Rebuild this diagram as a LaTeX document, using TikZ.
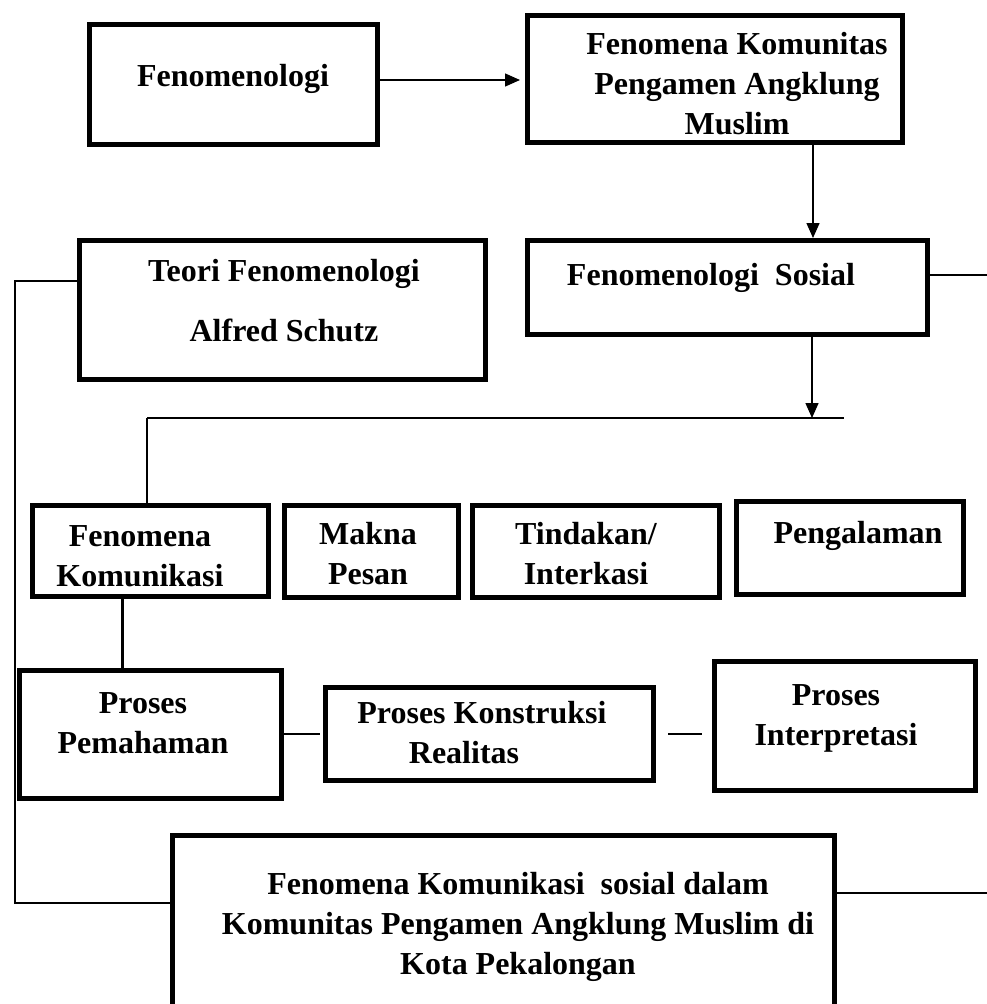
\documentclass[tikz,border=0pt]{standalone}
\usepackage{fontspec}
\setmainfont{Liberation Serif}
\usetikzlibrary{arrows.meta}

\tikzset{
  kotak/.style={draw, rectangle, line width=5pt, inner sep=0pt},
  teks/.style={font=\fontsize{32}{40}\selectfont\bfseries, align=center, inner sep=0pt},
  garis/.style={line width=1.4pt},
  panah/.style={line width=1.4pt, -{Triangle[length=15pt,width=13pt]}},
}

\begin{document}
\begin{tikzpicture}[x=1pt,y=-1pt]
  \useasboundingbox (0,0) rectangle (987,1004);
  \clip (0,0) rectangle (987,1004);
  % baris atas
  \node[kotak, minimum width=288, minimum height=120] (fen) at (233.5,84.5) {};
  \node[teks] (fen-t) at (233,79) {Fenomenologi};
  \node[kotak, minimum width=375, minimum height=127] (komunitas) at (715,79) {};
  \node[teks] (komunitas-t) at (737,84) {Fenomena Komunitas\\Pengamen Angklung\\Muslim};
  \node[kotak, minimum width=400, minimum height=94] (sosial) at (727.5,287.5) {};
  \node[teks] (sosial-t) at (711,277.5) {Fenomenologi\ \ Sosial};
  \node[kotak, minimum width=406, minimum height=139] (teori) at (282.5,310) {};
  \node[teks] (teori-t) at (284,301) {Teori Fenomenologi\\[20pt]Alfred Schutz};
  % baris tengah
  \node[kotak, minimum width=236, minimum height=91] (fenkom) at (150.5,551) {};
  \node[teks] (fenkom-t) at (140,556) {Fenomena\\Komunikasi};
  \node[kotak, minimum width=174, minimum height=92] (makna) at (371.5,551.5) {};
  \node[teks] (makna-t) at (368,554) {Makna\\Pesan};
  \node[kotak, minimum width=247, minimum height=92] (tindakan) at (596,551.5) {};
  \node[teks] (tindakan-t) at (586,554) {Tindakan/\\Interkasi};
  \node[kotak, minimum width=227, minimum height=93] (pengalaman) at (850,548) {};
  \node[teks] (pengalaman-t) at (858,535.5) {Pengalaman};
  % proses
  \node[kotak, minimum width=262, minimum height=128] (pemahaman) at (150.5,734.5) {};
  \node[teks] (pemahaman-t) at (143,723) {Proses\\Pemahaman};
  \node[kotak, minimum width=328, minimum height=93] (konstruksi) at (489.5,734) {};
  \node[teks] (konstruksi-t) at (482,732.5) {Proses Konstruksi\\Realitas\hspace*{36pt}};
  \node[kotak, minimum width=261, minimum height=129] (interpretasi) at (845,726) {};
  \node[teks] (interpretasi-t) at (836,718) {Proses\\Interpretasi};
  % kesimpulan
  \node[kotak, minimum width=662, minimum height=200] (hasil) at (503.5,935.5) {};
  \node[teks] (hasil-t) at (518,926.5) {Fenomena Komunikasi\ \ sosial dalam\\Komunitas Pengamen Angklung Muslim di\\Kota Pekalongan};

  % titik bantu
  \coordinate (fen-k) at (0,80);
  \coordinate (kom-x) at (813,0);
  \coordinate (kanan1) at (987,275);
  \coordinate (bar-l) at (147,418);
  \coordinate (bar-r) at (844,418);
  \coordinate (bar-m) at (812,418);
  \coordinate (fk-x) at (122,0);
  \coordinate (teori-k) at (0,281);
  \coordinate (kiri) at (15,0);
  \coordinate (hasil-k) at (0,903);
  \coordinate (kanan2) at (987,893);

  % garis
  \draw[panah, shorten >=5pt] (fen.east |- fen-k) -- (komunitas.west |- fen-k);
  \draw[panah] (komunitas.south -| kom-x) -- (sosial.north -| kom-x);
  \draw[garis] (sosial.east |- kanan1) -- (kanan1);
  \draw[panah] (sosial.south -| bar-m) -- (bar-m);
  \draw[line width=2.5pt] (bar-l) -- (bar-r);
  \draw[line width=2pt] (bar-l) -- (bar-l |- fenkom.north);
  \draw[line width=3pt] (fenkom.south -| fk-x) -- (pemahaman.north -| fk-x);
  \draw[garis, shorten >=3pt] (pemahaman.east |- konstruksi.west) -- (konstruksi.west);
  \draw[garis, shorten <=12pt, shorten >=10pt] (konstruksi.east) -- (konstruksi.east -| interpretasi.west);
  \draw[garis] (teori.west |- teori-k) -- (kiri |- teori-k) -- (kiri |- hasil-k) -- (hasil.west |- hasil-k);
  \draw[garis] (hasil.east |- kanan2) -- (kanan2);
\end{tikzpicture}
\end{document}
